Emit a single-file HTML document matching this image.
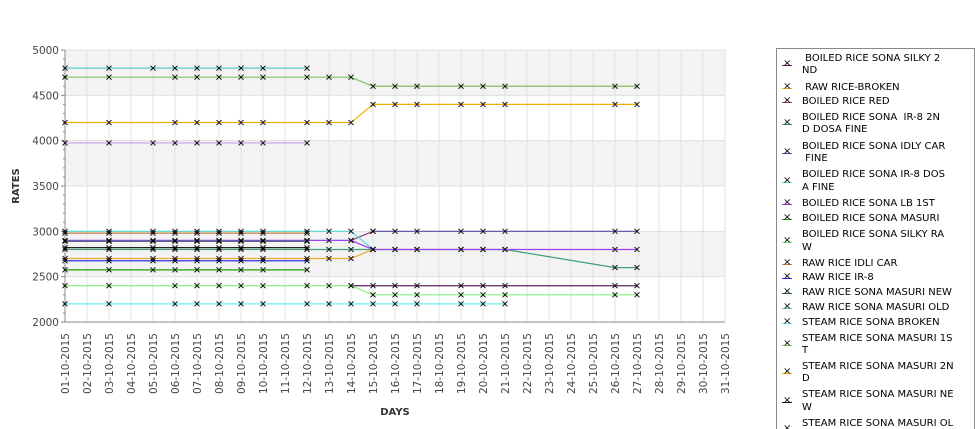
<!DOCTYPE html>
<html style="overflow:hidden;width:975px;height:429px"><head><meta charset="utf-8"><style>
body{margin:0;background:#fff;width:975px;height:429px;overflow:hidden;position:relative;font-family:"DejaVu Sans","Liberation Sans",sans-serif}
svg{position:absolute;left:0;top:0}
.lg{position:absolute;left:776px;top:48px;width:199px;height:381px;border:1px solid #888;border-bottom:none;box-sizing:border-box;background:#fff;overflow:hidden}
.le{position:absolute;left:25px;font-size:10px;line-height:12.4px;color:#000;white-space:pre}
.lm{position:absolute;left:5px;width:10px;height:1px}
</style></head><body>
<svg id="chart" width="975" height="429"></svg>
<div class="lg" id="legend"></div>
<script>
const days=["01","02","03","04","05","06","07","08","09","10","11","12","13","14","15","16","17","18","19","20","21","22","23","24","25","26","27","28","29","30","31"];
const yTicks=[2000,2500,3000,3500,4000,4500,5000];
const sName=["BOILED RICE SONA SILKY 2ND","RAW RICE-BROKEN","BOILED RICE RED","BOILED RICE SONA  IR-8 2ND DOSA FINE","BOILED RICE SONA IDLY CAR FINE","BOILED RICE SONA IR-8 DOSA FINE","BOILED RICE SONA LB 1ST","BOILED RICE SONA MASURI","BOILED RICE SONA SILKY RAW","RAW RICE IDLI CAR","RAW RICE IR-8","RAW RICE SONA MASURI NEW","RAW RICE SONA MASURI OLD","STEAM RICE SONA BROKEN","STEAM RICE SONA MASURI 1ST","STEAM RICE SONA MASURI 2ND","STEAM RICE SONA MASURI NEW","STEAM RICE SONA MASURI OLD"];
const sColor=["#602060","#f0a830","#904080","#40a070","#5050a0","#50d8d0","#a040f0","#20a000","#80f080","#c08040","#2020e0","#306060","#60c8c0","#60f0f0","#80c060","#f0b000","#202020","#c8a0e8"];
const s0=[[14,2400],[15,2400],[16,2400],[17,2400],[19,2400],[20,2400],[21,2400],[26,2400],[27,2400]];
const s1=[[1,2700],[3,2700],[5,2700],[6,2700],[7,2700],[8,2700],[9,2700],[10,2700],[12,2700],[13,2700],[14,2700],[15,2800]];
const s2=[[14,2900],[15,3000]];
const s3=[[1,2800],[3,2800],[5,2800],[6,2800],[7,2800],[8,2800],[9,2800],[10,2800],[12,2800],[13,2800],[14,2800],[15,2800],[16,2800],[17,2800],[19,2800],[20,2800],[21,2800],[26,2600],[27,2600]];
const s4=[[15,3000],[16,3000],[17,3000],[19,3000],[20,3000],[21,3000],[26,3000],[27,3000]];
const s5=[[1,3000],[3,3000],[5,3000],[6,3000],[7,3000],[8,3000],[9,3000],[10,3000],[12,3000],[13,3000],[14,3000],[15,2800]];
const s6=[[1,2900],[3,2900],[5,2900],[6,2900],[7,2900],[8,2900],[9,2900],[10,2900],[12,2900],[13,2900],[14,2900],[15,2800],[16,2800],[17,2800],[19,2800],[20,2800],[21,2800],[26,2800],[27,2800]];
const s7=[[1,2575],[3,2575],[5,2575],[6,2575],[7,2575],[8,2575],[9,2575],[10,2575],[12,2575]];
const s8=[[1,2400],[3,2400],[6,2400],[7,2400],[8,2400],[9,2400],[10,2400],[12,2400],[13,2400],[14,2400],[15,2300],[16,2300],[17,2300],[19,2300],[20,2300],[21,2300],[26,2300],[27,2300]];
const s9=[[1,2980],[3,2980],[5,2980],[6,2980],[7,2980],[8,2980],[9,2980],[10,2980],[12,2980]];
const s10=[[1,2675],[3,2675],[5,2675],[6,2675],[7,2675],[8,2675],[9,2675],[10,2675],[12,2675]];
const s11=[[1,2890],[3,2890],[5,2890],[6,2890],[7,2890],[8,2890],[9,2890],[10,2890],[12,2890]];
const s12=[[1,4800],[3,4800],[5,4800],[6,4800],[7,4800],[8,4800],[9,4800],[10,4800],[12,4800]];
const s13=[[1,2200],[3,2200],[6,2200],[7,2200],[8,2200],[9,2200],[10,2200],[12,2200],[13,2200],[14,2200],[15,2200],[16,2200],[17,2200],[19,2200],[20,2200],[21,2200]];
const s14=[[1,4700],[3,4700],[6,4700],[7,4700],[8,4700],[9,4700],[10,4700],[12,4700],[13,4700],[14,4700],[15,4600],[16,4600],[17,4600],[19,4600],[20,4600],[21,4600],[26,4600],[27,4600]];
const s15=[[1,4200],[3,4200],[6,4200],[7,4200],[8,4200],[9,4200],[10,4200],[12,4200],[13,4200],[14,4200],[15,4400],[16,4400],[17,4400],[19,4400],[20,4400],[21,4400],[26,4400],[27,4400]];
const s16=[[1,2820],[3,2820],[5,2820],[6,2820],[7,2820],[8,2820],[9,2820],[10,2820],[12,2820]];
const s17=[[1,3975],[3,3975],[5,3975],[6,3975],[7,3975],[8,3975],[9,3975],[10,3975],[12,3975]];
const series=[s0,s1,s2,s3,s4,s5,s6,s7,s8,s9,s10,s11,s12,s13,s14,s15,s16,s17];
const legendLines=[[" BOILED RICE SONA SILKY 2","ND"],[" RAW RICE-BROKEN"],["BOILED RICE RED"],["BOILED RICE SONA  IR-8 2N","D DOSA FINE"],["BOILED RICE SONA IDLY CAR"," FINE"],["BOILED RICE SONA IR-8 DOS","A FINE"],["BOILED RICE SONA LB 1ST"],["BOILED RICE SONA MASURI"],["BOILED RICE SONA SILKY RA","W"],["RAW RICE IDLI CAR"],["RAW RICE IR-8"],["RAW RICE SONA MASURI NEW"],["RAW RICE SONA MASURI OLD"],["STEAM RICE SONA BROKEN"],["STEAM RICE SONA MASURI 1S","T"],["STEAM RICE SONA MASURI 2N","D"],["STEAM RICE SONA MASURI NE","W"],["STEAM RICE SONA MASURI OL","D"]];

const L=65,R=725,T=50,B=322;
const x=d=>L+(d-1)*(R-L)/30;
const y=v=>B-(v-2000)*(B-T)/3000;
const NS="http://www.w3.org/2000/svg";
const svg=document.getElementById('chart');
function mk(tag,at,parent){const e=document.createElementNS(NS,tag);for(const k in at)e.setAttribute(k,at[k]);(parent||svg).appendChild(e);return e;}
[[4500,5000],[3500,4000],[2500,3000]].forEach(b=>{const r=mk('rect',{x:L,y:y(b[1]),width:R-L,height:y(b[0])-y(b[1]),fill:'#f3f3f3'});});
yTicks.forEach(v=>{const l=mk('line',{x1:L,x2:R,y1:y(v),y2:y(v),stroke:'#e0e0e0'});});
days.forEach((d,i)=>{const l=mk('line',{x1:x(i+1),x2:x(i+1),y1:T,y2:B,stroke:'#e0e0e0'});});
const ya=mk('line',{x1:L,x2:L,y1:T,y2:B,stroke:'#888'});
const xa=mk('line',{x1:L,x2:R,y1:B,y2:B,stroke:'#888'});
for(let v=2000;v<=5000;v+=100){mk('line',{x1:L-(v%500===0?4:2),x2:L,y1:y(v),y2:y(v),stroke:'#888'});}
yTicks.forEach(v=>{const t=mk('text',{x:L-6,y:y(v)+4,'text-anchor':'end','font-size':'10.5',fill:'#444'});t.textContent=v;});
days.forEach((d,i)=>{const xx=x(i+1)+4;const t=mk('text',{x:0,y:0,transform:`translate(${xx},333) rotate(-90)`,'text-anchor':'end','font-size':'10.5',fill:'#444'});t.textContent=d+'-10-2015';});
const xt=mk('text',{x:395,y:415,'text-anchor':'middle','font-size':'10','font-weight':'bold',fill:'#333'});xt.textContent='DAYS';
const yt=mk('text',{x:0,y:0,transform:'translate(19,186) rotate(-90)','text-anchor':'middle','font-size':'10','font-weight':'bold',fill:'#333'});yt.textContent='RATES';
series.forEach((s,i)=>{
  const g=mk('g',{});
  const pl=mk('polyline',{points:s.map(p=>x(p[0])+','+y(p[1])).join(' '),fill:'none',stroke:sColor[i],'stroke-width':'1.2'},g);
  
});
series.forEach((s,i)=>{s.forEach(p=>{const cx=x(p[0]),cy=y(p[1]);
  const m=mk('path',{d:`M${cx-2.5},${cy-2.5}L${cx+2.5},${cy+2.5}M${cx+2.5},${cy-2.5}L${cx-2.5},${cy+2.5}`,stroke:'#000','stroke-width':'0.9'});
  });});
const lg=document.getElementById('legend');
const my=[65,88.3,102.3,124.3,153.3,181.7,204.3,219.3,241.7,263.7,278.3,293,307.7,323,345,373.3,401.7,430];
legendLines.forEach((ls,i)=>{
  const e=document.createElement('div');e.className='le';
  
  
  e.textContent=ls.join('\n');
  e.style.top=(my[i]-48-1-ls.length*6.2)+'px';lg.appendChild(e);
  const m=document.createElement('div');m.className='lm';
  
  
  m.style.top=(my[i]-49)+'px';m.style.background=sColor[i];lg.appendChild(m);
  const xm=document.createElement('div');xm.textContent='×';
  
  
  xm.style.cssText=`position:absolute;left:6px;top:${my[i]-49-7}px;font-size:10px;line-height:12px;color:#000`;lg.appendChild(xm);
});
</script>
</body></html>
